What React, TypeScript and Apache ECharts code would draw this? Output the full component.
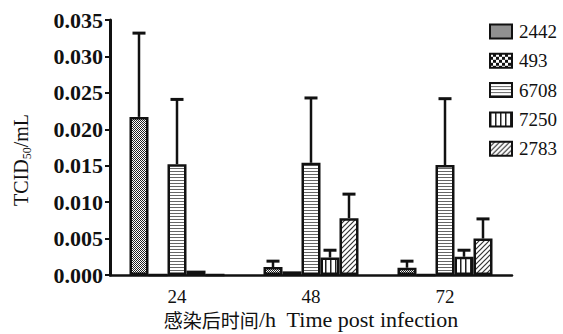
import React, { useEffect, useRef } from "react";
import * as echarts from "echarts";

const categories = ["24", "48", "72"];
const seriesNames = ["2442", "493", "6708", "7250", "2783"];
const means: number[][] = [
  [0.0217, 0.0011, 0.001],
  [0, 0.0005, 0],
  [0.0152, 0.0154, 0.0151],
  [0.0006, 0.0024, 0.0025],
  [0, 0.0078, 0.005],
];
const errors: number[][] = [
  [0.0115, 0.0008, 0.0009],
  [0, 0, 0],
  [0.0089, 0.0089, 0.0091],
  [0, 0.001, 0.0009],
  [0, 0.0033, 0.0027],
];
const yTicks = [0, 0.005, 0.01, 0.015, 0.02, 0.025, 0.03, 0.035];

const FONT = "Liberation Serif";
const CJK_FONT = "Noto Sans CJK SC";

function makePattern(kind: number): string {
  const c = document.createElement("canvas");
  const ctx = c.getContext("2d")!;
  if (kind === 0) {
    c.width = 2; c.height = 2;
    ctx.fillStyle = "#fff"; ctx.fillRect(0, 0, 2, 2);
    ctx.fillStyle = "#222"; ctx.fillRect(0, 0, 1, 1); ctx.fillRect(1, 1, 1, 1);
  } else if (kind === 1) {
    c.width = 6; c.height = 6;
    ctx.fillStyle = "#111"; ctx.fillRect(0, 0, 6, 6);
    ctx.fillStyle = "#fff"; ctx.fillRect(0, 0, 3, 3); ctx.fillRect(3, 3, 3, 3);
  } else if (kind === 2) {
    c.width = 4; c.height = 3;
    ctx.fillStyle = "#fff"; ctx.fillRect(0, 0, 4, 3);
    ctx.fillStyle = "#666"; ctx.fillRect(0, 0, 4, 1);
  } else if (kind === 3) {
    c.width = 5; c.height = 4;
    ctx.fillStyle = "#fff"; ctx.fillRect(0, 0, 5, 4);
    ctx.fillStyle = "#222"; ctx.fillRect(0, 0, 1.5, 4);
  } else {
    c.width = 5; c.height = 5;
    ctx.fillStyle = "#fff"; ctx.fillRect(0, 0, 5, 5);
    ctx.strokeStyle = "#333"; ctx.lineWidth = 1.2;
    ctx.beginPath();
    ctx.moveTo(-1, 6); ctx.lineTo(6, -1);
    ctx.moveTo(-1, 1); ctx.lineTo(1, -1);
    ctx.moveTo(4, 6); ctx.lineTo(6, 4);
    ctx.stroke();
  }
  return c.toDataURL();
}

export default function App() {
  const ref = useRef<HTMLDivElement>(null);
  useEffect(() => {
    document.body.style.margin = "0";
    const chart = echarts.init(ref.current!, null, { renderer: "svg" });
    const BW = 19;
    const barSeries = seriesNames.map((name, i) => ({
      name,
      type: "bar",
      barWidth: BW,
      barGap: "0%",
      data: means[i],
      itemStyle: {
        color: { image: makePattern(i), repeat: "repeat" },
        borderColor: "#111",
        borderWidth: 2.5,
      },
    }));
    const errSeries = seriesNames.map((name, i) => ({
      type: "custom",
      name: name + "-err",
      z: 1,
      data: means[i].map((m, j) => [j, m, errors[i][j]]),
      encode: { x: 0, y: 1 },
      renderItem: (params: any, api: any) => {
        const cat = api.value(0);
        const v = api.value(1);
        const e = api.value(2);
        if (!e) return null;
        const off = (i - 2) * BW;
        const b = api.coord([cat, v]);
        const t = api.coord([cat, v + e]);
        const x = b[0] + off;
        return {
          type: "group",
          children: [
            { type: "line", shape: { x1: x, y1: b[1], x2: x, y2: t[1] }, style: { stroke: "#111", lineWidth: 2.5 } },
            { type: "line", shape: { x1: x - 6.5, y1: t[1], x2: x + 6.5, y2: t[1] }, style: { stroke: "#111", lineWidth: 3 } },
          ],
        };
      },
    }));
    chart.setOption({
      animation: false,
      grid: { left: 110, right: 51, top: 20, bottom: 59 },
      legend: {
        data: seriesNames,
        orient: "vertical",
        left: 484,
        top: 17,
        itemWidth: 22,
        itemHeight: 14,
        itemGap: 10.3,
        icon: "rect",
        textStyle: { fontFamily: FONT, fontSize: 19, color: "#111", padding: [0, 0, 0, 2] },
      },
      xAxis: {
        type: "category",
        data: categories,
        axisLine: { lineStyle: { color: "#111", width: 2.5 } },
        axisTick: { alignWithLabel: true, length: 5, lineStyle: { color: "#111", width: 2 } },
        axisLabel: { fontFamily: FONT, fontSize: 19, lineHeight: 17, color: "#111", margin: 13 },
      },
      yAxis: {
        type: "value",
        min: yTicks[0],
        max: yTicks[yTicks.length - 1],
        interval: 0.005,
        splitLine: { show: false },
        axisLine: { show: true, lineStyle: { color: "#111", width: 3 } },
        axisTick: { show: true, length: 5, lineStyle: { color: "#111", width: 2 } },
        axisLabel: { fontFamily: FONT, fontSize: 22, fontWeight: "bold", color: "#111", margin: 7, formatter: (v: number) => v.toFixed(3) },
      },
      graphic: [
        {
          type: "text",
          x: 21,
          y: 160,
          rotation: Math.PI / 2,
          style: {
            text: "{a|TCID}{b|50}{a|/mL}",
            align: "center",
            verticalAlign: "middle",
            rich: {
              a: { fontFamily: FONT, fontSize: 20, fill: "#111", lineHeight: 24, verticalAlign: "middle" },
              b: { fontFamily: FONT, fontSize: 12, fill: "#111", lineHeight: 24, verticalAlign: "bottom" },
            },
          },
        },
        {
          type: "text",
          x: 311,
          y: 319,
          style: {
            text: "{c|感染后时间}{a|/h  Time post infection}",
            align: "center",
            verticalAlign: "middle",
            rich: {
              c: { fontFamily: CJK_FONT, fontSize: 19, lineHeight: 20, fill: "#111" },
              a: { fontFamily: FONT, fontSize: 22, lineHeight: 20, fill: "#111" },
            },
          },
        },
      ],
      series: [...barSeries, ...errSeries],
    });
    return () => chart.dispose();
  }, []);
  return <div ref={ref} style={{ width: 563, height: 334 }} />;
}
